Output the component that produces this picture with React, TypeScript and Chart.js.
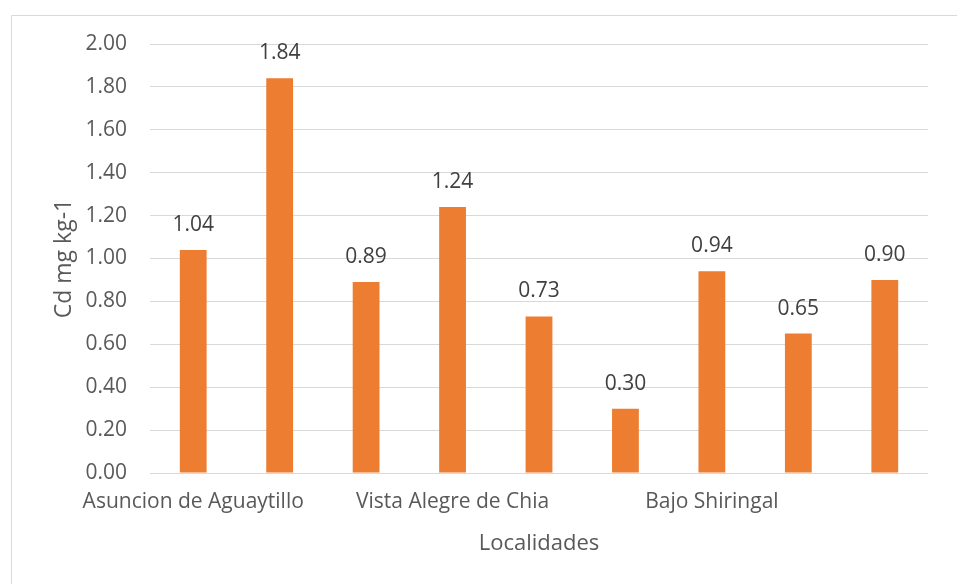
import React, { useEffect, useRef } from "react";
import { Chart, registerables } from "chart.js";

Chart.register(...registerables);

// Cadmium content per sampling site (mg kg-1)
const categories = [
  "Asuncion de Aguaytillo",
  "",
  "",
  "Vista Alegre de Chia",
  "",
  "",
  "Bajo Shiringal",
  "",
  "",
];
const cdValues = [1.04, 1.84, 0.89, 1.24, 0.73, 0.3, 0.94, 0.65, 0.9];
const yTicks = [0, 0.2, 0.4, 0.6, 0.8, 1.0, 1.2, 1.4, 1.6, 1.8, 2.0];

const FONT = "'Open Sans', 'Noto Sans', sans-serif";
const TEXT = "#595959";
const GRID = "#D9D9D9";
const BAR = "#ED7D31";

// Light frame around the chart (top and left edges)
const framePlugin = {
  id: "frame",
  beforeDraw(chart: any) {
    const { ctx, width, height } = chart;
    ctx.save();
    ctx.fillStyle = "#ffffff";
    ctx.fillRect(0, 0, width, height);
    ctx.strokeStyle = GRID;
    ctx.lineWidth = 1;
    ctx.beginPath();
    ctx.moveTo(11.5, height);
    ctx.lineTo(11.5, 15.5);
    ctx.lineTo(width, 15.5);
    ctx.stroke();
    ctx.restore();
  },
};

// Value labels above each bar
const valueLabelPlugin = {
  id: "valueLabels",
  afterDatasetsDraw(chart: any) {
    const { ctx } = chart;
    const meta = chart.getDatasetMeta(0);
    const data = chart.data.datasets[0].data as number[];
    ctx.save();
    ctx.font = `21px ${FONT}`;
    ctx.fillStyle = "#404040";
    ctx.textAlign = "center";
    ctx.textBaseline = "alphabetic";
    meta.data.forEach((bar: any, i: number) => {
      ctx.fillText(data[i].toFixed(2), bar.x, bar.y - 19);
    });
    ctx.restore();
  },
};

export default function App() {
  const canvasRef = useRef<HTMLCanvasElement | null>(null);

  useEffect(() => {
    const canvas = canvasRef.current;
    if (!canvas) return;
    const chart = new Chart(canvas, {
      type: "bar",
      data: {
        labels: categories,
        datasets: [
          {
            data: cdValues,
            backgroundColor: BAR,
            borderWidth: 0,
            categoryPercentage: 1,
            barPercentage: 0.31,
          },
        ],
      },
      options: {
        responsive: false,
        animation: false,
        devicePixelRatio: 1,
        layout: { padding: { left: 11, top: 44, right: 29, bottom: 0 } },
        plugins: {
          legend: { display: false },
          tooltip: { enabled: false },
        },
        scales: {
          x: {
            grid: { display: false, drawTicks: false },
            border: { display: false },
            ticks: {
              color: TEXT,
              font: { family: FONT, size: 21 },
              padding: 16,
              maxRotation: 0,
              autoSkip: false,
            },
            title: {
              display: true,
              text: "Localidades",
              color: TEXT,
              font: { family: FONT, size: 22 },
              padding: { top: 0, bottom: 27 },
            },
            afterFit(scale: any) {
              scale.height = 111;
            },
          },
          y: {
            min: 0,
            max: 2,
            grid: { color: GRID, lineWidth: 1, drawTicks: false },
            border: { display: false },
            afterBuildTicks(scale: any) {
              scale.ticks = yTicks.map((v) => ({ value: v }));
            },
            ticks: {
              color: TEXT,
              font: { family: FONT, size: 21 },
              padding: 23,
              callback: (v: any) => Number(v).toFixed(2),
            },
            title: {
              display: true,
              text: "Cd mg kg-1",
              color: TEXT,
              font: { family: FONT, size: 23 },
              padding: { top: 40, bottom: 0 },
            },
            afterFit(scale: any) {
              scale.width = 139;
            },
          },
        },
      },
      plugins: [framePlugin, valueLabelPlugin],
    });
    return () => chart.destroy();
  }, []);

  return (
    <canvas
      ref={canvasRef}
      width={957}
      height={584}
      style={{ position: "absolute", left: 0, top: 0, width: 957, height: 584 }}
    />
  );
}
